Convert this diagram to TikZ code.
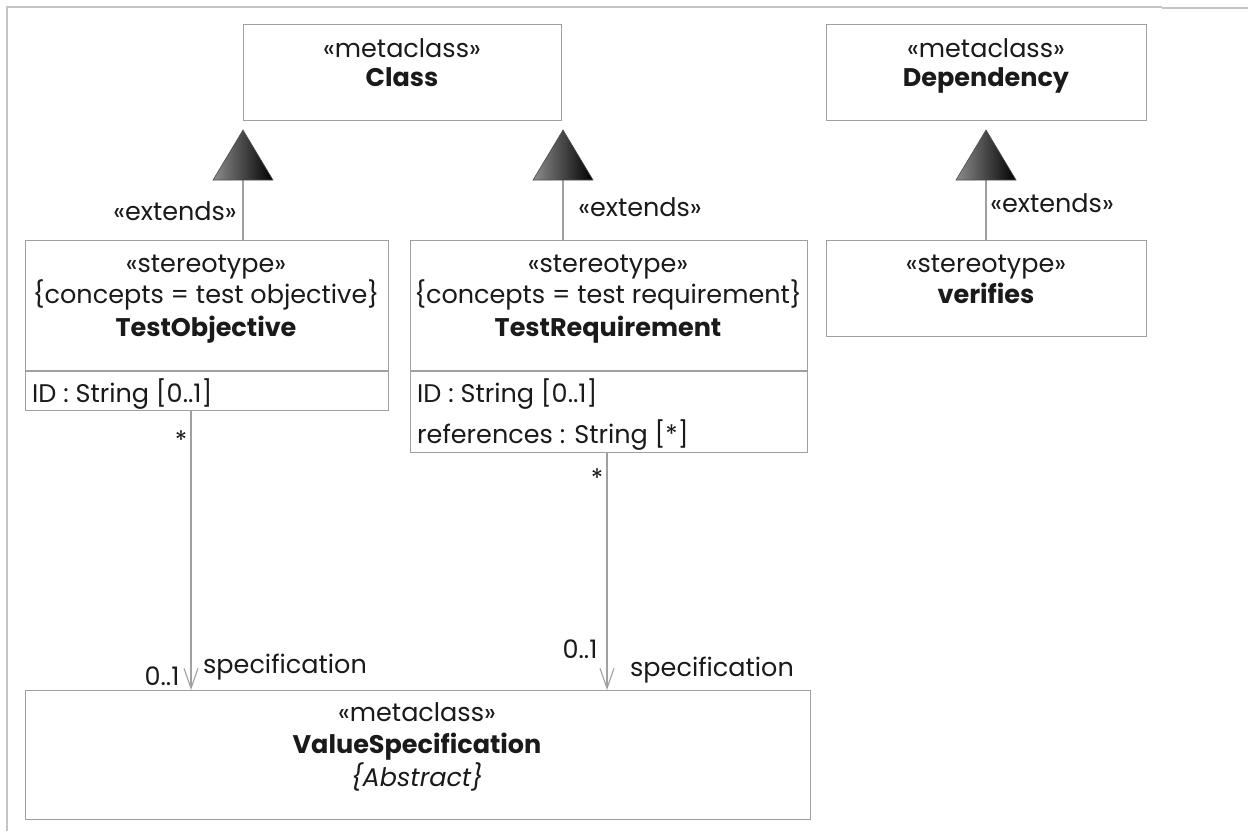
\documentclass[tikz,border=0pt]{standalone}
\usepackage{fontspec}
\setmainfont{Poppins}
\usetikzlibrary{arrows.meta}
\definecolor{bord}{HTML}{A0A0A0}
\definecolor{frm}{HTML}{C4C4C4}
\definecolor{ink}{HTML}{1A1A1A}
\begin{document}
\begin{tikzpicture}[x=1pt,y=-1pt,
  box/.style={draw=bord, line width=1.3pt, anchor=north west, inner sep=0pt, fill=white},
  txt/.style={font=\fontsize{25.5}{30}\selectfont, text=ink, inner sep=0pt, anchor=mid},
  btxt/.style={txt, font=\fontsize{25.5}{30}\selectfont\bfseries},
  ltxt/.style={txt, anchor=mid west},
  conn/.style={draw=bord, line width=1.2pt},
  gentri/.style={draw=black!70, line width=0.6pt, left color=black!45, right color=black},
  assoc/.style={conn, -{Straight Barb[length=20pt,width=14pt,line width=1.1pt]}}
]
\useasboundingbox (0,0) rectangle (1248,831);
\fill[white] (0,0) rectangle (1248,831);
% frame
\draw[frm, line width=1.5pt] (7,831) -- (7,7) -- (1162,7);
\draw[frm, line width=2pt] (1162,8) -- (1248,8);

% boxes
\node[box, minimum width=318pt, minimum height=96pt] (cls) at (243,24) {};
\node[box, minimum width=320pt, minimum height=96pt] (dep) at (826,24) {};
\node[box, minimum width=363pt, minimum height=170pt] (tobj) at (25,240) {};
\node[box, minimum width=397pt, minimum height=212pt] (treq) at (410,240) {};
\node[box, minimum width=320pt, minimum height=96pt] (ver) at (826,240) {};
\node[box, minimum width=785pt, minimum height=129pt] (vs) at (25,690) {};

% compartments
\draw[draw=bord, line width=1.3pt] (25,371) -- (388,371);
\draw[draw=bord, line width=1.3pt] (410,371) -- (807,371);

% texts
\node[txt] (clsS) at (402,55) {«metaclass»};
\node[btxt] (clsN) at (402,84) {Class};
\node[txt] (depS) at (986,55) {«metaclass»};
\node[btxt] (depN) at (986,84) {Dependency};

\node[txt] (tobjS) at (206,270) {«stereotype»};
\node[txt] (tobjC) at (206,301) {\{concepts = test objective\}};
\node[btxt] (tobjN) at (206,334) {TestObjective};
\node[ltxt] (tobjA) at (32,400) {ID : String [0..1]};

\node[txt] (treqS) at (608,270) {«stereotype»};
\node[txt] (treqC) at (608,301) {\{concepts = test requirement\}};
\node[btxt] (treqN) at (608,334) {TestRequirement};
\node[ltxt] (treqA) at (417,400) {ID : String [0..1]};
\node[ltxt] (treqB) at (417,441) {references : String [*]};

\node[txt] (verS) at (986,270) {«stereotype»};
\node[btxt] (verN) at (986,301) {verifies};

\node[txt] (vsS) at (417,719) {«metaclass»};
\node[btxt] (vsN) at (417,751) {ValueSpecification};
\node[txt, font=\fontsize{25.5}{30}\selectfont\itshape] (vsA) at (417,784) {\{Abstract\}};

% generalizations (extensions)
\coordinate (t1) at (243,130);
\coordinate (t1b) at (243,180);
\coordinate (t2) at (563,130);
\coordinate (t2b) at (563,180);
\coordinate (t3) at (986,130);
\coordinate (t3b) at (986,180);
\draw[conn] (t1b) -- (t1b |- tobj.north);
\draw[conn] (t2b) -- (t2b |- treq.north);
\draw[conn] (t3b) -- (t3b |- ver.north);
\shade[gentri] (t1) -- ++(-30,50) -- ++(60,0) -- cycle;
\shade[gentri] (t2) -- ++(-30,50) -- ++(60,0) -- cycle;
\shade[gentri] (t3) -- ++(-30,50) -- ++(60,0) -- cycle;
\node[txt] (e1) at (175,218) {«extends»};
\node[txt] (e2) at (640,214) {«extends»};
\node[txt] (e3) at (1052,210) {«extends»};

% associations
\coordinate (a1) at (191,410);
\coordinate (a2) at (607,452);
\draw[assoc] (a1) -- (a1 |- vs.north);
\draw[assoc] (a2) -- (a2 |- vs.north);
\node[txt] (m1) at (181,447) {*};
\node[txt] (m2) at (597,485) {*};
\node[txt] (m3) at (162,683) {0..1};
\node[txt] (m4) at (580,656) {0..1};
\node[txt] (r1) at (285,671) {specification};
\node[txt] (r2) at (712,674) {specification};
\end{tikzpicture}
\end{document}
